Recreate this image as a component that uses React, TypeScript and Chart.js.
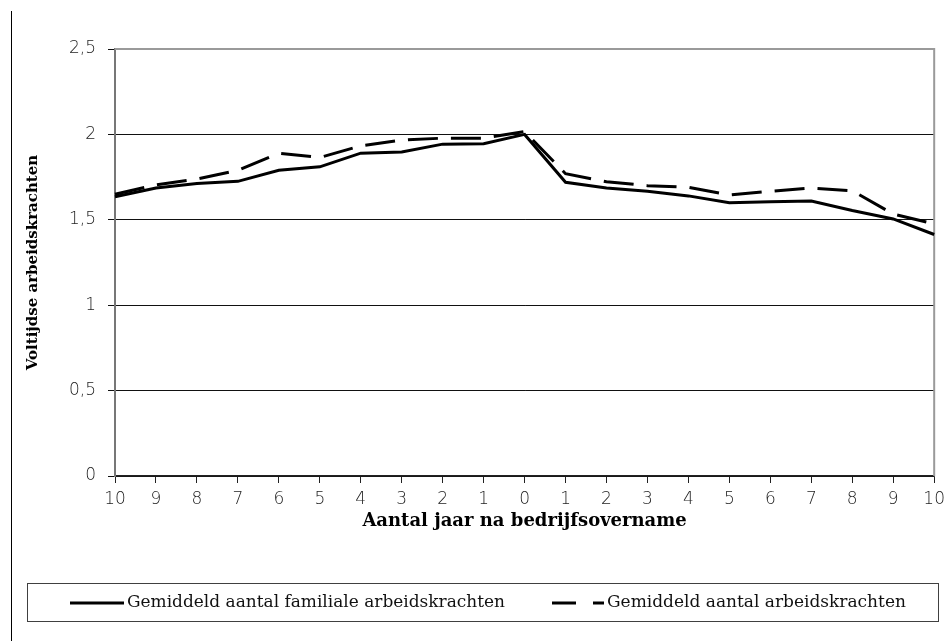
import React, { useEffect, useRef } from "react";
import { Chart, registerables } from "chart.js";

Chart.register(...registerables);

const yearLabels = ["10", "9", "8", "7", "6", "5", "4", "3", "2", "1", "0", "1", "2", "3", "4", "5", "6", "7", "8", "9", "10"];
const familialWorkers = [1.635, 1.686, 1.713, 1.725, 1.79, 1.81, 1.89, 1.897, 1.943, 1.945, 2.0, 1.72, 1.686, 1.667, 1.64, 1.6, 1.605, 1.61, 1.554, 1.505, 1.414];
const totalWorkers = [1.65, 1.705, 1.739, 1.79, 1.89, 1.865, 1.933, 1.967, 1.978, 1.978, 2.017, 1.77, 1.723, 1.7, 1.69, 1.645, 1.667, 1.686, 1.67, 1.534, 1.476];
const seriesNames = ["Gemiddeld aantal familiale arbeidskrachten", "Gemiddeld aantal arbeidskrachten"];
const yTickValues = [0, 0.5, 1, 1.5, 2, 2.5];
const xTitle = "Aantal jaar na bedrijfsovername";
const yTitle = "Voltijdse arbeidskrachten";

const W = 951;
const H = 641;

const framePlugin = {
  id: "frame",
  beforeDatasetsDraw(chart: any) {
    const { ctx, chartArea } = chart;
    ctx.save();
    ctx.strokeStyle = "#9a9a9a";
    ctx.lineWidth = 2;
    ctx.beginPath();
    ctx.moveTo(chartArea.left, chartArea.top);
    ctx.lineTo(chartArea.right, chartArea.top);
    ctx.lineTo(chartArea.right, chartArea.bottom);
    ctx.stroke();
    ctx.restore();
  },
  afterDraw(chart: any) {
    const { ctx } = chart;
    ctx.save();
    // outer left line
    ctx.strokeStyle = "#000";
    ctx.lineWidth = 1;
    ctx.beginPath();
    ctx.moveTo(11.5, 11);
    ctx.lineTo(11.5, H);
    ctx.stroke();
    // legend box
    ctx.strokeStyle = "#404040";
    ctx.strokeRect(27.5, 583.5, 911, 38);
    const ly = 603;
    ctx.lineWidth = 3;
    ctx.strokeStyle = "#000";
    ctx.beginPath();
    ctx.moveTo(70, ly);
    ctx.lineTo(124, ly);
    ctx.stroke();
    ctx.beginPath();
    ctx.moveTo(552, ly);
    ctx.lineTo(576, ly);
    ctx.moveTo(593, ly);
    ctx.lineTo(604, ly);
    ctx.stroke();
    ctx.fillStyle = "#111";
    ctx.font = "17px 'DejaVu Serif'";
    ctx.textBaseline = "middle";
    ctx.textAlign = "left";
    ctx.fillText(seriesNames[0], 127, ly, 378);
    ctx.fillText(seriesNames[1], 607, ly, 302);
    ctx.restore();
  },
};

export default function App() {
  const ref = useRef<HTMLCanvasElement>(null);
  useEffect(() => {
    if (!ref.current) return;
    const chart = new Chart(ref.current, {
      type: "line",
      data: {
        labels: yearLabels,
        datasets: [
          {
            label: seriesNames[0],
            data: familialWorkers,
            borderColor: "#000",
            borderWidth: 3,
            pointRadius: 0,
            tension: 0,
          },
          {
            label: seriesNames[1],
            data: totalWorkers,
            borderColor: "#000",
            borderWidth: 3,
            borderDash: [30, 13],
            pointRadius: 0,
            tension: 0,
          },
        ],
      },
      options: {
        responsive: false,
        animation: false,
        layout: { padding: { left: 0, top: 49, right: 15, bottom: 109 } },
        plugins: { legend: { display: false }, tooltip: { enabled: false } },
        scales: {
          x: {
            offset: false,
            afterFit: (s: any) => {
              s.height = 56;
            },
            grid: {
              display: true,
              drawOnChartArea: false,
              drawTicks: true,
              tickLength: 7,
              color: "#222",
              lineWidth: 1,
            },
            border: { display: true, color: "#222", width: 1.5 },
            ticks: {
              autoSkip: false,
              maxRotation: 0,
              padding: 6,
              color: "#222",
              font: { family: "'DejaVu Sans'", size: 17, weight: "200" as any },
            },
            title: {
              display: true,
              text: xTitle,
              color: "#000",
              padding: 0,
              font: { family: "'DejaVu Serif'", size: 18, weight: "bold" },
            },
          },
          y: {
            min: 0,
            max: 2.5,
            afterFit: (s: any) => {
              s.width = 115;
            },
            afterBuildTicks: (s: any) => {
              s.ticks = yTickValues.map((v) => ({ value: v }));
            },
            grid: {
              display: true,
              drawTicks: true,
              tickLength: 7,
              color: "#111",
              lineWidth: 1,
            },
            border: { display: true, color: "#777", width: 2 },
            ticks: {
              padding: 12,
              color: "#222",
              font: { family: "'DejaVu Sans'", size: 17, weight: "200" as any },
              callback: (v: any) => String(v).replace(".", ","),
            },
            title: {
              display: true,
              text: yTitle,
              color: "#000",
              padding: { top: 24, bottom: 0 },
              font: { family: "'DejaVu Serif'", size: 15, weight: "bold" },
            },
          },
        },
      },
      plugins: [framePlugin],
    });
    return () => chart.destroy();
  }, []);
  return (
    <div style={{ position: "fixed", left: 0, top: 0, width: W, height: H, background: "#fff" }}>
      <canvas ref={ref} width={W} height={H} style={{ display: "block" }} />
    </div>
  );
}
